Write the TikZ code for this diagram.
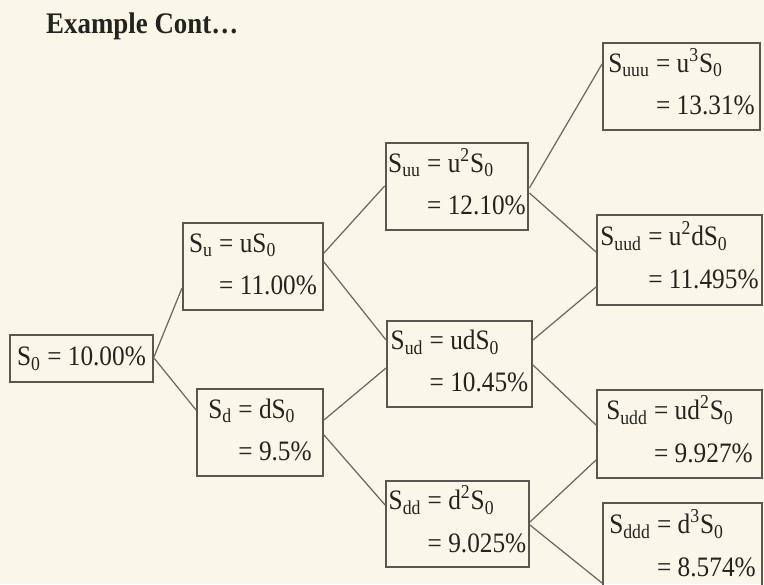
\documentclass[tikz,border=0pt]{standalone}
\usepackage{fontspec}
\setmainfont[FakeStretch=0.9]{Liberation Serif}
\usepackage{tikz}
\usetikzlibrary{positioning}
\definecolor{paper}{RGB}{250,247,233}
\definecolor{boxline}{RGB}{88,88,80}
\definecolor{branch}{RGB}{105,105,98}
\definecolor{ink}{RGB}{35,35,32}
\newcommand{\Sx}[1]{S\textsubscript{#1}}
\newcommand{\rate}[3]{\begin{tabular}{@{}l@{\ }l@{}}\Sx{#1} & = #2\\[5pt] & = #3\end{tabular}}

\begin{document}
\begin{tikzpicture}[
    ratebox/.style={draw=boxline, line width=1.1pt, inner sep=1.5pt, font=\fontsize{16}{19}\selectfont, text=ink},
    branchline/.style={draw=branch, line width=0.7pt}
]
\fill[paper] (0,0) rectangle (15.28,11.68);
\useasboundingbox (0,0) rectangle (15.28,11.68);

\node[anchor=base west, font=\fontsize{17}{20}\selectfont\bfseries, text=ink] (title) at (0.80,11.0) {Example Cont\ldots};

% first step
\node[ratebox, minimum width=2.86cm, minimum height=0.94cm] (s0) at (1.63,4.51) {\Sx{0} = 10.00\%};
\node[ratebox, minimum width=2.80cm, minimum height=1.74cm] (su) at (5.06,6.35) {\rate{u}{uS\textsubscript{0}}{11.00\%}};
\node[ratebox, minimum width=2.52cm, minimum height=1.74cm] (sd) at (5.20,3.03) {\rate{d}{dS\textsubscript{0}}{9.5\%}};

% second step
\node[ratebox, minimum width=2.80cm, minimum height=1.74cm] (suu) at (9.14,7.95) {\rate{uu}{u\textsuperscript{2}S\textsubscript{0}}{12.10\%}};
\node[ratebox, minimum width=2.90cm, minimum height=1.72cm] (sud) at (9.19,4.40) {\rate{ud}{udS\textsubscript{0}}{10.45\%}};
\node[ratebox, minimum width=2.82cm, minimum height=1.72cm] (sdd) at (9.15,1.20) {\rate{dd}{d\textsuperscript{2}S\textsubscript{0}}{9.025\%}};

% third step
\node[ratebox, minimum width=3.14cm, minimum height=1.74cm] (suuu) at (13.63,9.95) {\rate{uuu}{u\textsuperscript{3}S\textsubscript{0}}{13.31\%}};
\node[ratebox, minimum width=3.30cm, minimum height=1.80cm] (suud) at (13.59,6.48) {\rate{uud}{u\textsuperscript{2}dS\textsubscript{0}}{11.495\%}};
\node[ratebox, minimum width=3.30cm, minimum height=1.76cm] (sudd) at (13.59,3.00) {\rate{udd}{ud\textsuperscript{2}S\textsubscript{0}}{9.927\%}};
\node[ratebox, minimum width=3.18cm, minimum height=1.80cm] (sddd) at (13.65,0.72) {\rate{ddd}{d\textsuperscript{3}S\textsubscript{0}}{8.574\%}};

\draw[branchline] ([yshift=0.03cm]s0.east) -- ([yshift=-0.43cm]su.west);
\draw[branchline] ([yshift=0.01cm]s0.east) -- ([yshift=0.45cm]sd.west);
\draw[branchline] ([yshift=0.27cm]su.east) -- ([yshift=0.01cm]suu.west);
\draw[branchline] ([yshift=0.09cm]su.east) -- ([yshift=0.48cm]sud.west);
\draw[branchline] ([yshift=0.25cm]sd.east) -- ([yshift=-0.08cm]sud.west);
\draw[branchline] ([yshift=-0.05cm]sd.east) -- ([yshift=0.38cm]sdd.west);
\draw[branchline] ([yshift=-0.03cm]suu.east) -- ([yshift=0.45cm]suuu.west);
\draw[branchline] ([yshift=-0.13cm]suu.east) -- ([yshift=0.16cm]suud.west);
\draw[branchline] ([yshift=0.48cm]sud.east) -- ([yshift=-0.54cm]suud.west);
\draw[branchline] ([yshift=-0.02cm]sud.east) -- ([yshift=0.18cm]sudd.west);
\draw[branchline] ([yshift=0.04cm]sdd.east) -- ([yshift=-0.52cm]sudd.west);
\draw[branchline] ([yshift=-0.02cm]sdd.east) -- ([yshift=-0.70cm]sddd.west);

\end{tikzpicture}
\end{document}
